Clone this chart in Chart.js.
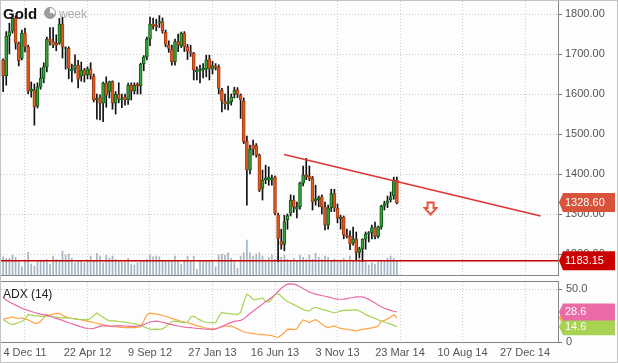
<!DOCTYPE html>
<html>
<head>
<meta charset="utf-8">
<script src="https://cdn.jsdelivr.net/npm/chart.js@4.4.1/dist/chart.umd.min.js"></script>
<style>
    html, body { margin: 0; padding: 0; background: #fdfdfd; }
    #wrap { position: relative; width: 618px; height: 363px; background: #fdfdfd; overflow: hidden; font-family: "Liberation Sans", Arial, sans-serif; }
    #wrap:after { content: ""; position: absolute; left: 0; top: 0; right: 0; bottom: 0; border: 1px solid #c4c4c4; pointer-events: none; }
    #main { position: absolute; left: 0; top: 0; }
    #adx { position: absolute; left: 0; top: 277px; }
    .t { position: absolute; white-space: nowrap; line-height: 1; }
</style>
</head>
<body>
<div id="wrap">
    <canvas id="main" width="618" height="277"></canvas>
    <canvas id="adx" width="618" height="86"></canvas>
    <div class="t" style="left:3px;top:5px;font:bold 15px 'Liberation Sans',Arial;color:#111;">Gold</div>
    <div style="position:absolute;left:44px;top:7px;width:10px;height:10px;border:1px solid #999;border-radius:50%;background:conic-gradient(#fff 0 28%, #9c9c9c 28% 100%);"></div>
    <div class="t" style="left:59px;top:7px;font:12px 'Liberation Sans',Arial;color:#aaa;">week</div>
    <div class="t" style="left:3px;top:287px;font:12px 'Liberation Sans',Arial;color:#222;">ADX (14)</div>
</div>
<script>
// --- Data (one entry per weekly candle, x = week index) ---
const opens = [
    1685,1645,1745,1758,1789,1727,1689,1752,1718,1607, 1610,1570,1618,1639,1668,1737,1731,1727,1727,1775,
    1714,1714,1658,1663,1672,1645,1660,1648,1663,1645, 1585,1591,1577,1627,1606,1631,1577,1599,1585,1592,
    1585,1622,1608,1625,1620,1675,1692,1737,1775,1772, 1777,1781,1754,1722,1712,1681,1731,1720,1752,1718,
    1706,1702,1656,1658,1660,1662,1687,1662,1670,1667, 1610,1581,1575,1581,1599,1610,1597,1582,1482,1410,
    1472,1471,1447,1364,1385,1385,1385,1392,1298,1232, 1224,1286,1302,1334,1312,1318,1377,1397,1395,1390,
    1333,1336,1343,1318,1272,1315,1351,1315,1288,1292, 1248,1244,1228,1238,1204,1213,1237,1250,1254,1266,
    1244,1268,1320,1327,1336,1345,1385
];
const highs = [
    1688,1756,1777,1797,1795,1730,1760,1765,1722,1630, 1625,1628,1665,1678,1742,1766,1766,1748,1789,1792,
    1718,1718,1675,1698,1684,1680,1664,1668,1678,1650, 1600,1598,1630,1643,1632,1633,1606,1628,1600,1600,
    1627,1628,1628,1628,1677,1696,1742,1792,1790,1787, 1796,1790,1760,1733,1722,1737,1750,1755,1756,1724,
    1722,1704,1668,1672,1676,1697,1697,1682,1676,1673, 1614,1600,1620,1600,1617,1616,1600,1590,1495,1472,
    1485,1476,1450,1410,1422,1418,1397,1395,1302,1262, 1297,1300,1348,1346,1330,1380,1420,1439,1420,1394,
    1372,1345,1348,1330,1322,1362,1362,1325,1297,1295, 1262,1258,1267,1255,1217,1238,1255,1256,1272,1280,
    1270,1322,1332,1345,1355,1392,1392
];
const lows = [
    1606,1622,1700,1752,1712,1670,1685,1705,1600,1592, 1522,1565,1612,1628,1655,1722,1716,1708,1724,1690,
    1662,1638,1630,1652,1615,1632,1630,1638,1637,1580, 1537,1535,1531,1567,1590,1562,1550,1578,1566,1572,
    1574,1585,1600,1600,1600,1658,1685,1721,1762,1758, 1766,1752,1718,1704,1672,1672,1706,1716,1706,1686,
    1694,1635,1635,1628,1640,1643,1635,1650,1660,1600, 1555,1562,1560,1572,1590,1591,1539,1476,1322,1400,
    1447,1442,1356,1335,1376,1372,1372,1298,1181,1212, 1208,1262,1295,1304,1290,1312,1370,1386,1383,1310,
    1322,1318,1300,1260,1262,1306,1306,1278,1262,1238, 1240,1211,1222,1186,1190,1181,1212,1230,1238,1238,
    1240,1262,1310,1316,1330,1337,1325
];
const closes = [
    1645,1745,1756,1789,1728,1683,1752,1718,1607,1612, 1568,1618,1639,1668,1737,1731,1722,1722,1775,1717,
    1716,1664,1662,1672,1637,1660,1648,1663,1648,1585, 1590,1577,1627,1597,1631,1577,1599,1587,1588,1585,
    1622,1608,1622,1620,1675,1692,1737,1775,1771,1768, 1781,1758,1724,1714,1681,1731,1722,1752,1718,1708,
    1702,1660,1660,1662,1664,1685,1664,1671,1666,1614, 1583,1575,1581,1593,1610,1599,1585,1481,1410,1462,
    1462,1447,1360,1385,1389,1392,1389,1302,1239,1224, 1281,1296,1335,1318,1318,1377,1397,1393,1388,1331,
    1338,1341,1318,1272,1315,1351,1315,1290,1292,1248, 1244,1226,1238,1204,1213,1237,1250,1253,1266,1244,
    1268,1320,1326,1333,1342,1385,1328.6
];
const volumes = [
    183,167,167,200,177,133,83,150,227,110, 90,133,150,150,157,110,190,157,150,240,
    200,210,167,123,143,143,123,150,190,143, 217,190,123,200,167,190,157,133,133,133,
    167,110,100,123,133,133,157,200,183,190, 183,150,143,150,143,190,143,110,143,190,
    143,190,57,143,133,143,133,133,83,200, 210,200,223,167,133,67,190,223,350,223,
    190,210,223,190,150,177,200,157,190,177, 200,157,143,167,143,200,177,157,200,157,
    217,177,157,190,177,143,157,133,150,167, 133,190,143,150,157,133,143,100,123,110,
    133,150,143,167,190,167,143
];
const adx = [
    42,40,38,36.5,35,33.5,32,31,30,29, 28,27.2,26.5,26,25.3,24.5,23.5,22.5,21.5,20.5,
    19.3,18.3,17.3,16.3,15.3,14.3,13.4,12.8,12.6,13, 14,15,15.3,15.5,15.2,15,15.3,15.6,15.4,15.2,
    15,14.8,14.8,15,15.5,16.5,17.8,18.8,19.5,19.9, 19.5,18.8,18,17.2,16.5,15.8,15.2,14.7,14.2,13.8,
    13.6,13.3,13,12.8,12.5,12.3,12.1,12,12.4,13.5, 14.8,16.2,17.5,18.6,19.6,20,20.6,22,24.5,27,
    29.3,31.5,33.7,36,38.2,40.3,42.5,45,48,51, 53.5,55,55.2,55,54,52.5,50.8,49,47.5,46.5,
    45.5,44.8,44.2,43.5,42.8,42,41.2,40.7,40.6,40.8, 41.2,41.8,42.3,42.8,43,42.8,41.8,40.5,38.8,37,
    35.2,33.5,32,31,30,29.2,28.6
];
const minusDI = [
    21,19.5,17.5,16.5,17.5,18.5,19.5,22,26,25.5, 25,24.8,24.3,24.5,24.8,24.5,24,23.6,23.2,23,
    23.2,22.8,22.3,22,21.6,21.4,21.2,21,22.5,25, 27.5,25.5,23.5,21.5,20,20.2,20,19.5,19.2,18.8,
    18.3,17.8,17.5,16.5,15.5,14.5,13.3,12.2,12,12.3, 12,12.5,14.5,17,19.5,19.8,19.3,18.8,18.5,19,
    23.5,24.5,22.5,21,19.5,18.5,18.3,18.5,18.3,24, 28,27.5,27,26.8,26.5,26,28,38,45.5,43.5,
    40.5,40.2,41,41.8,38.5,38,41,45,46,43.5, 40.5,38.5,37,35.5,34,32.5,31,29.8,29.5,32,
    33,32,31,30.5,29.5,28.5,27.8,28.5,29.5,30, 30.2,30,30.5,30.7,29.5,28,26,24.8,23.5,22.5,
    21,20,19,18,17,15.8,14.6
];
const plusDI = [
    21.5,22.5,23,23.8,23,22.5,23,22,21,19.5, 18,17.7,19.5,23,26,25.5,26.5,27.5,27,25.5,
    24,23,22.5,22.2,21.5,21,20.3,19.8,19.2,18.5, 17.8,17,16.5,15.5,15,14.8,14.5,14.2,13.8,13.7,
    13.9,13.6,13.7,14,14.5,20,26,27.5,27,26.5, 26,25.2,24.5,23.5,22.5,21.5,20.5,19.5,19,18.3,
    17.5,16.5,15.5,14.8,14,13.3,12.7,12.2,12.5,13.5, 14.5,15,15.2,15,14,12.5,11,9.5,9,8.5,
    8,7.6,7.3,7,6.7,6.4,6,5,4.3,6.5, 9,12,12.3,11.8,12.5,17.5,21,20,18.5,20,
    21.3,19.5,17,14.8,13.7,14.5,15.2,14,13,12.5, 12.1,11.5,11,10.5,11.5,12,12.5,13,13.5,14.2,
    15.2,19.5,20.5,22,23.5,26,23
];
const tickWeeks = [7, 27, 47, 67, 87, 107, 127, 147, 167];
const dateLabels = ['4 Dec 11', '22 Apr 12', '9 Sep 12', '27 Jan 13', '16 Jun 13', '3 Nov 13', '23 Mar 14', '10 Aug 14', '27 Dec 14'];
const priceTicks = [1200, 1300, 1400, 1500, 1600, 1700, 1800];
const supportLevel = 1183.15;
const trendWeeks = [89.9, 172];
const trendPrices = [1449, 1295];
const arrowWeek = 136.8, arrowPrice = 1313.75;

// --- Shared look ---
const X_MIN = -0.68, X_MAX = 177.56;
const FONT = '"Liberation Sans", Arial, sans-serif';
const UP_FILL = '#38a23c', UP_EDGE = '#0d5d16';
const DN_FILL = '#e15a1f', DN_EDGE = '#a53a10';
const GRID_H = '#cdcdcd', GRID_V = '#c6d3c6';

const xy = arr => arr.map((v, i) => ({ x: i, y: v }));

function fixAxis(width) {
    return s => { s.width = width; s.paddingTop = 0; s.paddingBottom = 0; };
}

// hollow down arrow used as a point style
const arrowImg = document.createElement('canvas');
arrowImg.width = 15; arrowImg.height = 15;
(() => {
    const a = arrowImg.getContext('2d');
    a.strokeStyle = '#e0553a'; a.lineWidth = 2; a.fillStyle = '#fff';
    a.beginPath();
    a.moveTo(4.5, 1.5); a.lineTo(10.5, 1.5); a.lineTo(10.5, 7); a.lineTo(13.5, 7);
    a.lineTo(7.5, 13.5); a.lineTo(1.5, 7); a.lineTo(4.5, 7); a.closePath();
    a.fill(); a.stroke();
})();

function drawTag(chart, scale, value, color, text, h) {
    const ctx = chart.ctx;
    const y = scale.getPixelForValue(value);
    const x0 = chart.chartArea.right + 1;
    ctx.save();
    ctx.fillStyle = color;
    ctx.beginPath();
    ctx.moveTo(x0, y); ctx.lineTo(x0 + 4, y - h / 2); ctx.lineTo(x0 + 56, y - h / 2);
    ctx.lineTo(x0 + 56, y + h / 2); ctx.lineTo(x0 + 4, y + h / 2); ctx.closePath();
    ctx.fill();
    ctx.fillStyle = '#fff';
    ctx.font = '11px ' + FONT;
    ctx.textBaseline = 'middle';
    ctx.fillText(text, x0 + 6, y + 0.5);
    ctx.restore();
}

const framePlugin = {
    id: 'frame',
    afterDatasetsDraw(chart) {
        const { ctx, chartArea: a } = chart;
        ctx.save();
        ctx.strokeStyle = '#858585'; ctx.lineWidth = 1;
        ctx.strokeRect(a.left - 0.5, a.top - 0.5, a.right - a.left + 1, a.bottom - a.top + 1);
        ctx.restore();
    }
};

// --- Price panel ---
new Chart(document.getElementById('main'), {
    type: 'bar',
    data: {
        datasets: [
            { type: 'line', data: [{ x: arrowWeek, y: arrowPrice }], showLine: false, pointStyle: arrowImg, pointRadius: 7, order: 0 },
            { type: 'line', data: trendWeeks.map((w, i) => ({ x: w, y: trendPrices[i] })), borderColor: '#e03434', borderWidth: 1.5, pointRadius: 0, order: 1 },
            { type: 'line', data: [{ x: X_MIN, y: supportLevel }, { x: X_MAX, y: supportLevel }], borderColor: '#c40000', borderWidth: 1.3, pointRadius: 0, order: 2 },
            {
                data: opens.map((o, i) => ({ x: i, y: [o, closes[i]] })),
                backgroundColor: opens.map((o, i) => closes[i] >= o ? UP_FILL : DN_FILL),
                borderColor: opens.map((o, i) => closes[i] >= o ? UP_EDGE : DN_EDGE),
                borderWidth: 1, borderSkipped: false, barThickness: 3, grouped: false, order: 3
            },
            { data: lows.map((l, i) => ({ x: i, y: [l, highs[i]] })), backgroundColor: '#111', barThickness: 1, grouped: false, order: 4 },
            { data: xy(volumes), yAxisID: 'vol', backgroundColor: '#a2b4c5', barThickness: 1, grouped: false, order: 5 }
        ]
    },
    options: {
        responsive: false,
        animation: false,
        events: [],
        layout: { autoPadding: false, padding: { left: 1, top: 1, right: 0, bottom: 2 } },
        plugins: { legend: { display: false }, tooltip: { enabled: false } },
        scales: {
            x: {
                type: 'linear', min: X_MIN, max: X_MAX, offset: false,
                afterBuildTicks: s => { s.ticks = tickWeeks.map(v => ({ value: v })); },
                ticks: { display: false },
                grid: { color: GRID_V, drawTicks: false, offset: false },
                border: { display: false, dash: [1, 2] },
                afterFit: s => { s.height = 0; s.paddingLeft = 0; s.paddingRight = 0; }
            },
            y: {
                position: 'right', min: 1147.5, max: 1832.5,
                afterBuildTicks: s => { s.ticks = priceTicks.map(v => ({ value: v })); },
                ticks: { color: '#555', font: { size: 11, family: FONT }, padding: 3, callback: v => v.toFixed(2) },
                grid: { color: GRID_H, tickLength: 4, tickColor: '#777' },
                border: { display: false, dash: [1, 2] },
                afterFit: fixAxis(60)
            },
            vol: { display: false, min: 0, max: 2750 }
        }
    },
    plugins: [framePlugin, {
        id: 'priceTags',
        afterDraw(chart) {
            const y = chart.scales.y;
            drawTag(chart, y, closes[closes.length - 1], '#d9533b', closes[closes.length - 1].toFixed(2), 19);
            drawTag(chart, y, supportLevel, '#cc0000', supportLevel.toFixed(2), 19);
        }
    }]
});

// --- ADX panel ---
const adxLine = (arr, color) => ({ data: xy(arr), borderColor: color, borderWidth: 1.2, pointRadius: 0, tension: 0 });
new Chart(document.getElementById('adx'), {
    type: 'line',
    data: {
        datasets: [
            adxLine(adx, '#ea6ba6'),
            adxLine(minusDI, '#a8d252'),
            adxLine(plusDI, '#ffa445')
        ]
    },
    options: {
        responsive: false,
        animation: false,
        events: [],
        layout: { autoPadding: false, padding: { left: 1, top: 5, right: 0, bottom: 0 } },
        plugins: { legend: { display: false }, tooltip: { enabled: false } },
        scales: {
            x: {
                type: 'linear', min: X_MIN, max: X_MAX, offset: false,
                afterBuildTicks: s => { s.ticks = tickWeeks.map(v => ({ value: v })); },
                ticks: {
                    color: '#555', font: { size: 11, family: FONT }, padding: 4, maxRotation: 0, autoSkip: false,
                    callback: v => dateLabels[tickWeeks.indexOf(v)]
                },
                grid: { color: GRID_V, drawTicks: false },
                border: { display: false, dash: [1, 2] },
                afterFit: s => { s.height = 21; s.paddingLeft = 0; s.paddingRight = 0; }
            },
            y: {
                position: 'right', min: 0, max: 57,
                afterBuildTicks: s => { s.ticks = [{ value: 0 }, { value: 50 }]; },
                ticks: { color: '#555', font: { size: 11, family: FONT }, padding: 4, callback: v => v === 0 ? '0' : v.toFixed(1) },
                grid: { color: c => c.tick && c.tick.value === 0 ? 'rgba(0,0,0,0)' : GRID_H, tickLength: 4, tickColor: '#777' },
                border: { display: false, dash: [1, 2] },
                afterFit: fixAxis(60)
            }
        }
    },
    plugins: [framePlugin, {
        id: 'adxTags',
        afterDraw(chart) {
            const y = chart.scales.y;
            const last = a => a[a.length - 1];
            drawTag(chart, y, last(plusDI), '#ffa445', last(plusDI).toFixed(1), 17);
            drawTag(chart, y, last(minusDI), '#a8d252', last(minusDI).toFixed(1), 17);
            drawTag(chart, y, last(adx), '#ea6ba6', last(adx).toFixed(1), 17);
        }
    }]
});
</script>
</body>
</html>
